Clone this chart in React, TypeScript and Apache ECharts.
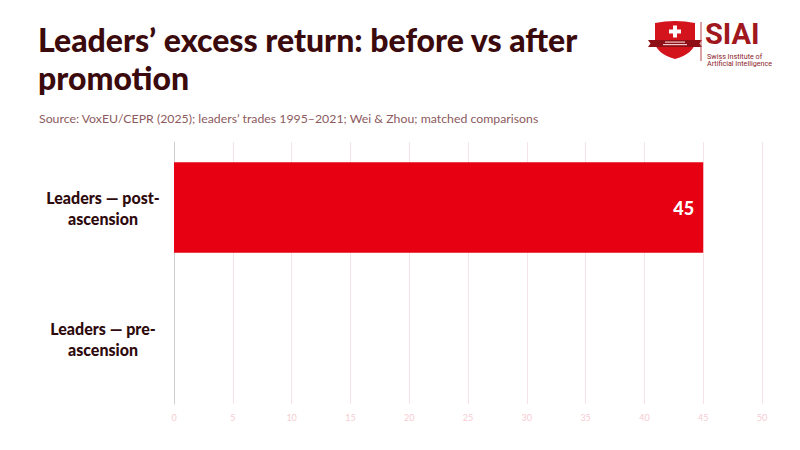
import React, { useEffect, useRef } from "react";
import * as echarts from "echarts";

const titleText = "Leaders’ excess return: before vs after\npromotion";
const subtitleText =
  "Source: VoxEU/CEPR (2025); leaders’ trades 1995–2021; Wei & Zhou; matched comparisons";
const categories = ["Leaders — post-ascension", "Leaders — pre-ascension"];
const values = [45, 0];
const axisMin = 0;
const axisMax = 50;
const axisStep = 5;

const FONT = "Lato, 'Noto Sans', sans-serif";

echarts.graphic.registerShape(
  "siaiShield",
  echarts.graphic.extendPath("M0 2 Q20 -2 40 2 L40 20 Q40 32 20 38 Q0 32 0 20 Z", {})
);

export default function App() {
  const ref = useRef<HTMLDivElement>(null);
  useEffect(() => {
    document.body.style.margin = "0";
    if (!ref.current) return;
    const chart = echarts.init(ref.current, null, { renderer: "svg" });
    chart.setOption({
      animation: false,
      backgroundColor: "#ffffff",
      title: [
        {
          text: titleText,
          left: 33,
          top: 15,
          textStyle: {
            fontFamily: FONT,
            fontSize: 32,
            fontWeight: 900,
            color: "#3a0a0d",
            lineHeight: 38,
          },
        },
        {
          text: subtitleText,
          left: 34,
          top: 107,
          textStyle: {
            fontFamily: FONT,
            fontSize: 12.3,
            fontWeight: "normal",
            color: "#8c5a5e",
          },
        },
      ],
      grid: { left: 174, right: 38, top: 142, bottom: 46, containLabel: false },
      xAxis: {
        type: "value",
        min: axisMin,
        max: axisMax,
        interval: axisStep,
        axisLine: { show: false },
        axisTick: { show: false },
        splitLine: { show: true, lineStyle: { color: "#f6e3e6", width: 1 } },
        axisLabel: { color: "#f6ccd2", fontSize: 9, fontFamily: FONT, margin: 9 },
      },
      yAxis: {
        type: "category",
        data: categories,
        inverse: true,
        axisLine: { show: true, lineStyle: { color: "#d0d0d0", width: 1 } },
        axisTick: { show: false },
        splitLine: { show: false },
        axisLabel: {
          fontFamily: FONT,
          fontSize: 16,
          fontWeight: 900,
          color: "#2e0a0d",
          lineHeight: 21,
          align: "center",
          margin: 71,
          formatter: (v: string) => v.replace("-", "-\n"),
        },
      },
      series: [
        {
          type: "bar",
          data: values,
          barWidth: "69%",
          itemStyle: { color: "#e60012" },
          label: {
            show: true,
            position: "insideRight",
            distance: 9,
            color: "#ffffff",
            fontFamily: FONT,
            fontSize: 18,
            fontWeight: 900,
            formatter: (p: any) => (p.value ? String(p.value) : ""),
          },
        },
      ],
      graphic: [
        {
          type: "group",
          x: 655,
          y: 21,
          children: [
            { type: "siaiShield", x: 0, y: 0, style: { fill: "#d4141c" } },
            {
              type: "polygon",
              shape: {
                points: [
                  [-7, 19],
                  [47, 19],
                  [44.5, 22.5],
                  [47, 26],
                  [-7, 26],
                  [-4.5, 22.5],
                ],
              },
              style: { fill: "#8e0f16" },
            },
            { type: "rect", shape: { x: 10, y: 20.5, width: 20, height: 1.2 }, style: { fill: "#f0c8ca" } },
            { type: "rect", shape: { x: 8, y: 23, width: 24, height: 1.2 }, style: { fill: "#f0c8ca" } },
            { type: "rect", shape: { x: 14, y: 8.5, width: 12, height: 4 }, style: { fill: "#ffffff" } },
            { type: "rect", shape: { x: 18, y: 4.5, width: 4, height: 12 }, style: { fill: "#ffffff" } },
          ],
        },
        {
          type: "line",
          shape: { x1: 701, y1: 22, x2: 701, y2: 61 },
          style: { stroke: "#b5474c", lineWidth: 1 },
        },
        {
          type: "text",
          x: 705,
          y: 34,
          style: {
            text: "SIAI",
            fontFamily: "Roboto, sans-serif",
            fontSize: 29,
            lineHeight: 21,
            fontWeight: "bold",
            fill: "#a0171d",
            verticalAlign: "middle",
          },
        },
        {
          type: "text",
          x: 707,
          y: 52.5,
          style: {
            text: "Swiss Institute of\nArtificial Intelligence",
            fontFamily: "Roboto, sans-serif",
            fontSize: 7.2,
            lineHeight: 7.5,
            fill: "#8b1a1f",
          },
        },
      ],
    });
    return () => chart.dispose();
  }, []);
  return <div ref={ref} style={{ width: 800, height: 450 }} />;
}
